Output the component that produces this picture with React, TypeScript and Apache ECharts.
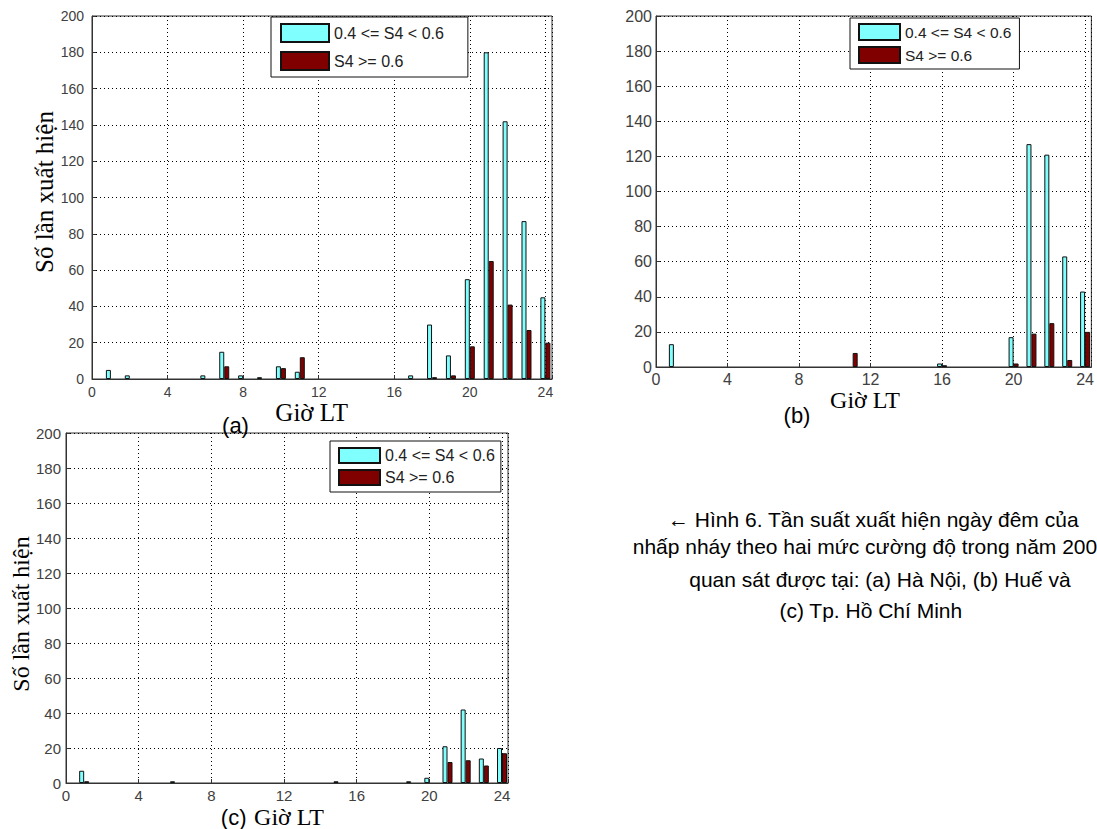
import React, { useEffect, useRef } from "react";
import * as echarts from "echarts";

// ---- data ----
const hours = [1, 2, 3, 4, 5, 6, 7, 8, 9, 10, 11, 12, 13, 14, 15, 16, 17, 18, 19, 20, 21, 22, 23, 24];
const xTicks = [0, 4, 8, 12, 16, 20, 24];
const seriesNames = ["0.4 <= S4 < 0.6", "S4 >= 0.6"];

// (a) Hà Nội
const aCyan = [5, 2, 0, 0, 0, 2, 15, 2, 1, 7, 4, 0, 0, 0, 0, 0, 2, 30, 13, 55, 180, 142, 87, 45];
const aRed = [0, 0, 0, 0, 0, 0, 7, 0, 0, 6, 12, 0, 0, 0, 0, 0, 0, 1, 2, 18, 65, 41, 27, 20];
// (b) Huế
const bCyan = [13, 0, 0, 0, 0, 0, 0, 0, 0, 0, 0, 0, 0, 0, 0, 2, 0, 0, 0, 17, 127, 121, 63, 43];
const bRed = [0, 0, 0, 0, 0, 0, 0, 0, 0, 0, 8, 0, 0, 0, 0, 1, 0, 0, 0, 2, 19, 25, 4, 20];
// (c) Tp. Hồ Chí Minh
const cCyan = [7, 0, 0, 0, 0, 1, 0, 0, 0, 0, 0, 0, 0, 0, 1, 0, 0, 0, 1, 3, 21, 42, 14, 20];
const cRed = [1, 0, 0, 0, 0, 0, 0, 0, 0, 0, 0, 0, 0, 0, 0, 0, 0, 0, 0, 0, 12, 13, 10, 17];

const yTitle = "Số lần xuất hiện";
const xTitle = "Giờ LT";
const captionLines = [
  "← Hình 6. Tần suất xuất hiện ngày đêm của",
  "nhấp nháy theo hai mức cường độ trong năm 200",
  "quan sát được tại: (a) Hà Nội, (b) Huế và",
  "(c) Tp. Hồ Chí Minh",
];

const CYAN = "#80FFFF";
const RED = "#800000";
const SANS = "'Liberation Sans', Arial, sans-serif";
const SERIF = "'Liberation Serif', 'Times New Roman', serif";

const toPairs = (vals: number[]) => hours.map((h, i) => [h, vals[i] === 0 ? null : vals[i]]);

const panels = [
  {
    cyan: aCyan, red: aRed,
    grid: { left: 92, top: 16, width: 460, height: 363 },
    xmax: 24.35, labelSize: 14, yMargin: 8, xMargin: 6,
    legend: { left: 271, top: 17, padding: [6, 24, 6, 9], itemWidth: 48, itemHeight: 18, itemGap: 8, fontSize: 16 },
  },
  {
    cyan: bCyan, red: bRed,
    grid: { left: 656, top: 16, width: 443, height: 351 },
    xmax: 24.35, labelSize: 16, yMargin: 4, xMargin: 4,
    legend: { left: 850, top: 18, padding: [5, 8, 5, 8], itemWidth: 41, itemHeight: 16, itemGap: 5, fontSize: 15.5 },
  },
  {
    cyan: cCyan, red: cRed,
    grid: { left: 66, top: 433, width: 442, height: 350 },
    xmax: 24.33, labelSize: 15, yMargin: 5, xMargin: 5,
    legend: { left: 330, top: 441, padding: [6, 6, 6, 8], itemWidth: 41, itemHeight: 15, itemGap: 5, fontSize: 16 },
  },
];

export default function App() {
  const ref = useRef<HTMLDivElement>(null);

  useEffect(() => {
    if (!ref.current) return;
    const chart = echarts.init(ref.current, undefined, { renderer: "svg" });

    const grids = panels.map((p) => ({
      ...p.grid,
      show: true,
      borderColor: "#333",
      borderWidth: 1,
      backgroundColor: "transparent",
    }));

    const xAxes = panels.map((p, i) => ({
      type: "value",
      gridIndex: i,
      min: 0,
      max: p.xmax,
      interval: 4,
      axisLine: { show: true, onZero: false, lineStyle: { color: "#333", width: 1 } },
      axisTick: { show: true, inside: true, length: 4, lineStyle: { color: "#333" } },
      axisLabel: {
        show: true,
        margin: p.xMargin,
        fontSize: p.labelSize,
        fontFamily: SANS,
        color: "#404040",
        formatter: (v: number) => (xTicks.includes(v) ? String(v) : ""),
      },
      splitLine: { show: true, lineStyle: { color: "#000", type: [1, 3], width: 1 } },
    }));

    const yAxes = panels.map((p, i) => ({
      type: "value",
      gridIndex: i,
      min: 0,
      max: 200,
      interval: 20,
      axisLine: { show: true, onZero: false, lineStyle: { color: "#333", width: 1 } },
      axisTick: { show: true, inside: true, length: 4, lineStyle: { color: "#333" } },
      axisLabel: {
        show: true,
        margin: p.yMargin,
        fontSize: p.labelSize,
        fontFamily: SANS,
        color: "#404040",
      },
      splitLine: { show: true, lineStyle: { color: "#000", type: [1, 3], width: 1 } },
    }));

    const series: any[] = [];
    panels.forEach((p, i) => {
      series.push({
        type: "bar",
        name: seriesNames[0],
        xAxisIndex: i,
        yAxisIndex: i,
        barWidth: 5,
        barGap: "0%",
        data: toPairs(p.cyan),
        itemStyle: { color: CYAN, borderColor: "#111", borderWidth: 1 },
        clip: false,
        z: 3,
      });
      series.push({
        type: "bar",
        name: seriesNames[1],
        xAxisIndex: i,
        yAxisIndex: i,
        barWidth: 5,
        barGap: "0%",
        data: toPairs(p.red),
        itemStyle: { color: RED, borderColor: "#111", borderWidth: 1 },
        clip: false,
        z: 3,
      });
    });

    const legends = panels.map((p) => ({
      show: true,
      orient: "vertical",
      left: p.legend.left,
      top: p.legend.top,
      padding: p.legend.padding,
      itemWidth: p.legend.itemWidth,
      itemHeight: p.legend.itemHeight,
      itemGap: p.legend.itemGap,
      icon: "rect",
      selectedMode: false,
      backgroundColor: "#fff",
      borderColor: "#111",
      borderWidth: 1,
      borderRadius: 0,
      data: seriesNames,
      textStyle: { fontSize: p.legend.fontSize, fontFamily: SANS, color: "#222" },
      z: 10,
    }));

    const txt = (text: string, x: number, y: number, size: number, family: string, extra: any = {}) => ({
      type: "text",
      x,
      y,
      ...extra,
      style: {
        text,
        fill: "#000",
        fontSize: size,
        fontFamily: family,
        textAlign: extra.align || "center",
        textVerticalAlign: "middle",
      },
    });

    const graphics = [
      txt(yTitle, 44, 192, 25, SERIF, { rotation: Math.PI / 2 }),
      txt(yTitle, 20.5, 614, 24, SERIF, { rotation: Math.PI / 2 }),
      txt(xTitle, 311.7, 412, 25, SERIF),
      txt(xTitle, 865, 400, 24, SERIF),
      txt(xTitle, 289, 817, 24, SERIF),
      txt("(a)", 235.5, 425, 22, SANS),
      txt("(b)", 797, 415, 22, SANS),
      txt("(c)", 233.7, 817, 22, SANS),
      txt(captionLines[0], 873.3, 519.4, 21, SANS),
      txt(captionLines[1], 632.7, 546, 21, SANS, { align: "left" }),
      txt(captionLines[2], 880, 579.7, 21, SANS),
      txt(captionLines[3], 870.8, 610.7, 21, SANS),
    ];

    chart.setOption({
      animation: false,
      backgroundColor: "#fff",
      grid: grids,
      xAxis: xAxes,
      yAxis: yAxes,
      legend: legends,
      series,
      graphic: graphics,
    });

    return () => chart.dispose();
  }, []);

  return (
    <div
      ref={ref}
      style={{ position: "fixed", left: 0, top: 0, width: 1097, height: 829, background: "#fff" }}
    />
  );
}
